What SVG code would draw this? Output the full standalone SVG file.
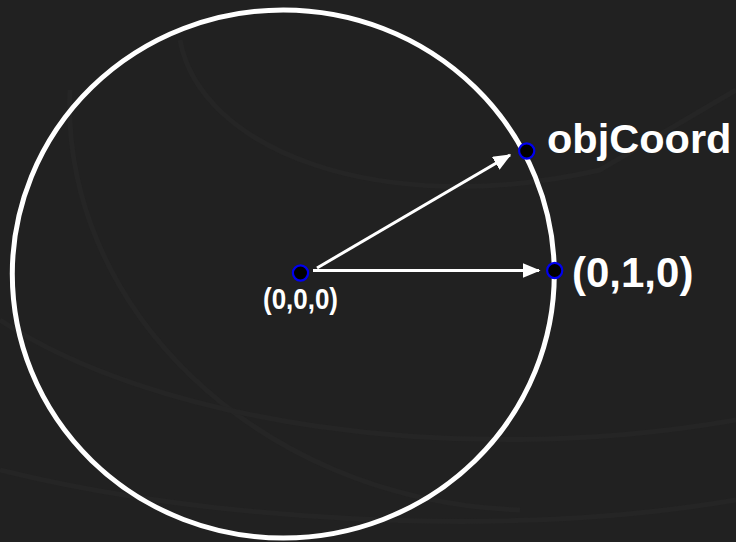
<svg xmlns="http://www.w3.org/2000/svg" width="736" height="542" viewBox="0 0 736 542">
<style>
.bg-arc{fill:none;stroke:#252525;stroke-width:5}
.ring{fill:none;stroke:#ffffff;stroke-width:5}
.dot{fill:#000000;stroke:#0000ee;stroke-width:2.2}
.vec{stroke:#ffffff;stroke-width:3;fill:none}
.lbl{font-family:"Liberation Sans",Arial,sans-serif;font-weight:bold;fill:#ffffff}
</style>
<defs>
<marker id="ah" markerWidth="6" markerHeight="5" refX="5.5" refY="2.5" orient="auto" markerUnits="strokeWidth">
<path d="M0,0 L6,2.5 L0,5 Z" fill="#ffffff"/>
</marker>
</defs>
<rect x="0" y="0" width="736" height="542" fill="#212121"/>
<g id="background">
<path class="bg-arc" d="M70,90 C60,300 250,500 520,510"/>
<path class="bg-arc" d="M0,320 C150,420 450,470 736,420"/>
<path class="bg-arc" d="M180,40 C200,150 380,220 600,170 L736,90"/>
<path class="bg-arc" d="M0,470 C200,520 500,540 736,500"/>
</g>
<g id="sphere">
<ellipse class="ring" cx="283.3" cy="274" rx="271" ry="264"/>
</g>
<g id="connectors">
<line class="vec" x1="313" y1="270.5" x2="539" y2="270.5" marker-end="url(#ah)"/>
<line class="vec" x1="317" y1="268" x2="510" y2="155" marker-end="url(#ah)"/>
</g>
<g id="origin">
<circle class="dot" cx="300.5" cy="273" r="7.6"/>
<text class="lbl" x="300.5" y="309" font-size="30" text-anchor="middle" textLength="75" lengthAdjust="spacingAndGlyphs">(0,0,0)</text>
</g>
<g id="objCoord">
<circle class="dot" cx="526.7" cy="151" r="7.6"/>
<text class="lbl" x="547" y="153" font-size="41.5">objCoord</text>
</g>
<g id="yaxis">
<circle class="dot" cx="554.7" cy="270.5" r="7.6"/>
<text class="lbl" x="572" y="286.5" font-size="42">(0,1,0)</text>
</g>
</svg>
